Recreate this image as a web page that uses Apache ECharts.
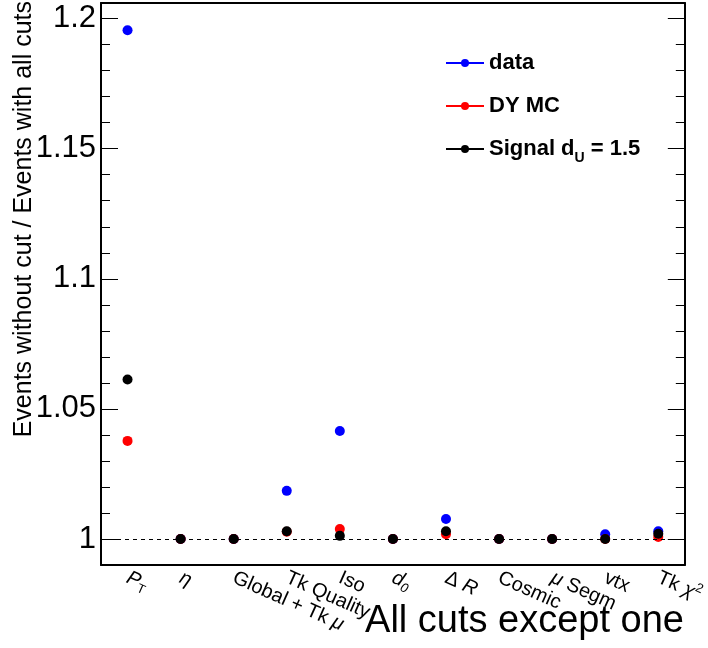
<!DOCTYPE html>
<html>
<head>
<meta charset="utf-8">
<script src="https://cdn.jsdelivr.net/npm/echarts@6/dist/echarts.min.js"></script>
<style>
  html, body { margin: 0; padding: 0; background: #fff; }
  #chart { width: 708px; height: 648px; }
</style>
</head>
<body>
<div id="chart"></div>
<script>
// cut names along the x axis
const categories = ['P_T', 'η', 'Global + Tk μ', 'Tk Quality', 'Iso', 'd_0', 'Δ R', 'Cosmic', 'μ Segm', 'vtx', 'Tk χ2'];

// ratio: events without the cut / events with all cuts
const dataValues = [1.1955, 1, 1, 1.0185, 1.0415, 1, 1.0077, 1, 1, 1.0018, 1.003];
const dyValues = [1.0377, 1, 1, 1.0028, 1.0038, 1, 1.0018, 1, 1, 1, 1.0008];
const signalValues = [1.0613, 1, 1, 1.003, 1.0012, 1, 1.003, 1, 1, 1, 1.002];

const seriesNames = ['data', 'DY MC', 'Signal d_U = 1.5'];
const yMin = 0.99;
const yMax = 1.206;

const FONT = '"Liberation Sans", Arial, Helvetica, sans-serif';

// rich-text markup for the math-ish labels
const labelMarkup = {
    'P_T': '{it|P}{sub|T}',
    'η': '{it|η}',
    'Global + Tk μ': 'Global + Tk {it|μ}',
    'd_0': '{it|d}{itsub|0}',
    'Δ R': 'Δ {it|R}',
    'μ Segm': '{it|μ} Segm',
    'Tk χ2': 'Tk {it|χ}{sup|2}'
};

function yAxisDef(position, major) {
    const ax = {
        type: 'value',
        position: position,
        min: yMin,
        max: yMax,
        scale: true,
        axisLine: { show: major, onZero: false, lineStyle: { color: '#000', width: 2 } },
        axisTick: { show: true, inside: true, length: major ? 17 : 9, lineStyle: { color: '#000', width: 1 } },
        axisLabel: { show: false },
        splitLine: { show: false }
    };
    if (major) {
        ax.splitNumber = 5;
        if (position === 'left') {
            ax.axisLabel = {
                show: true,
                showMinLabel: false,
                showMaxLabel: false,
                margin: 5,
                color: '#000',
                fontFamily: FONT,
                fontSize: 31,
                formatter: v => String(+v.toFixed(3))
            };
        }
    } else {
        ax.interval = 0.01;
    }
    return ax;
}

const chart = echarts.init(document.getElementById('chart'), null, { renderer: 'canvas' });

const dotSeries = (name, values, color) => ({
    name: name,
    type: 'line',
    xAxisIndex: 0,
    yAxisIndex: 0,
    data: values,
    symbol: 'circle',
    symbolSize: 10,
    showSymbol: true,
    itemStyle: { color: color },
    lineStyle: { width: 0, color: color },
    emphasis: { disabled: true }
});

const series = [
    dotSeries(seriesNames[0], dataValues, '#0000ff'),
    dotSeries(seriesNames[1], dyValues, '#ff0000'),
    dotSeries(seriesNames[2], signalValues, '#000000')
];
series[0].markLine = {
    silent: true,
    symbol: 'none',
    label: { show: false },
    lineStyle: { color: '#000', width: 1, type: [4, 4] },
    data: [{ yAxis: 1 }]
};

chart.setOption({
    animation: false,
    backgroundColor: '#fff',
    grid: { left: 101, right: 22, top: 3, bottom: 83, containLabel: false },
    legend: {
        orient: 'vertical',
        left: 440,
        top: 46,
        itemWidth: 38,
        itemHeight: 10,
        itemGap: 19,
        data: seriesNames,
        lineStyle: { width: 2 },
        textStyle: {
            color: '#000',
            fontFamily: FONT,
            fontWeight: 'bold',
            fontSize: 22,
            lineHeight: 24,
            rich: {
                sub: { fontFamily: FONT, fontWeight: 'bold', fontSize: 14, padding: [18, 0, 0, 0] }
            }
        },
        formatter: name => name.replace('d_U', 'd{sub|U}')
    },
    xAxis: [{
        type: 'category',
        position: 'bottom',
        data: categories,
        boundaryGap: true,
        axisLine: { onZero: false, lineStyle: { color: '#000', width: 2 } },
        axisTick: { inside: true, length: 16, interval: 0, lineStyle: { color: '#000', width: 1 } },
        axisLabel: {
            interval: 0,
            rotate: -24,
            margin: 12,
            color: '#000',
            fontFamily: FONT,
            fontSize: 20,
            formatter: v => labelMarkup[v] || v,
            rich: {
                it: { fontFamily: FONT, fontStyle: 'italic', fontSize: 20 },
                sub: { fontFamily: FONT, fontSize: 13, padding: [12, 0, 0, 0] },
                itsub: { fontFamily: FONT, fontStyle: 'italic', fontSize: 13, padding: [12, 0, 0, 0] },
                sup: { fontFamily: FONT, fontSize: 13, padding: [0, 0, 12, 0] }
            }
        },
        splitLine: { show: false }
    }, {
        type: 'category',
        position: 'top',
        data: categories,
        boundaryGap: true,
        axisLine: { onZero: false, lineStyle: { color: '#000', width: 2 } },
        axisTick: { inside: true, length: 16, interval: 0, lineStyle: { color: '#000', width: 1 } },
        axisLabel: { show: false },
        splitLine: { show: false }
    }],
    yAxis: [
        yAxisDef('left', true),
        yAxisDef('left', false),
        yAxisDef('right', true),
        yAxisDef('right', false)
    ],
    graphic: [{
        type: 'text',
        x: 24,
        y: 1,
        rotation: Math.PI / 2,
        style: {
            text: 'Events without cut / Events with all cuts',
            fontFamily: FONT,
            fontSize: 25,
            fill: '#000',
            align: 'right',
            verticalAlign: 'middle'
        }
    }, {
        type: 'text',
        x: 684,
        y: 622,
        style: {
            text: 'All cuts except one',
            fontFamily: FONT,
            fontSize: 38,
            fill: '#000',
            align: 'right',
            verticalAlign: 'middle'
        }
    }],
    series: series
});
</script>
</body>
</html>
